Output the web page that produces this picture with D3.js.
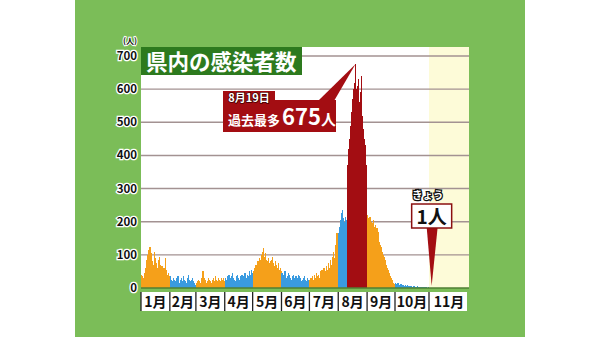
<html>
<head>
<meta charset="utf-8">
<script src="https://d3js.org/d3.v7.min.js"></script>
<style>
  body { margin: 0; background: #fff; }
  text { font-family: "Noto Sans CJK JP", "Noto Sans", sans-serif; font-weight: 700; }
</style>
</head>
<body>
<svg width="600" height="337"></svg>
<script>
// daily new cases, 2021, one array per month
const jan = [40, 35, 30, 45, 60, 85, 100, 80, 115, 125, 95, 105, 80, 70, 110, 90, 75, 60, 85, 95, 70, 55, 65, 50, 60, 45, 90, 55, 40, 45, 35];
const feb = [35, 25, 20, 30, 25, 15, 20, 30, 35, 20, 15, 25, 30, 20, 35, 25, 20, 15, 30, 38, 25, 20, 15, 25, 30, 20, 15, 10];
const mar = [15, 20, 25, 20, 15, 30, 25, 50, 30, 20, 25, 15, 20, 30, 25, 20, 15, 25, 30, 20, 35, 25, 20, 15, 30, 25, 20, 30, 25, 30, 20];
const apr = [30, 25, 35, 20, 40, 30, 25, 35, 45, 30, 25, 20, 35, 40, 30, 25, 35, 30, 40, 35, 30, 45, 35, 30, 40, 35, 50, 40, 55, 45];
const may = [50, 60, 55, 70, 65, 80, 75, 90, 85, 100, 110, 120, 95, 105, 85, 80, 90, 75, 70, 80, 85, 95, 75, 65, 80, 70, 60, 75, 55, 60, 50];
const jun = [45, 40, 35, 50, 40, 30, 35, 45, 40, 30, 25, 35, 40, 30, 20, 35, 30, 25, 40, 35, 30, 20, 25, 30, 35, 25, 20, 30, 25, 20];
const jul = [25, 30, 20, 35, 25, 40, 30, 45, 35, 40, 30, 50, 45, 55, 40, 60, 50, 45, 65, 55, 75, 60, 85, 70, 95, 110, 90, 130, 120, 165, 150];
const aug = [165, 185, 205, 225, 235, 210, 200, 215, 205,
             370, 390, 420, 450, 490, 530, 570, 600, 620, 675, 600, 610, 630, 560, 590, 640, 520, 480, 450, 430, 400, 370];
const sep = [220, 210, 215, 215, 200, 195, 205, 185, 190, 175, 180, 170, 150, 140, 130, 125, 110, 100, 95, 85, 70, 60, 55, 45, 35, 30, 25, 18, 15, 12];
const oct = [15, 12, 14, 10, 9, 12, 8, 10, 7, 9, 6, 8, 7, 5, 6, 4, 5, 7, 4, 3, 5, 4, 3, 2, 4, 3, 2, 3, 2, 1, 2];
const nov = [1];

const monthLabels = ["1月", "2月", "3月", "4月", "5月", "6月", "7月", "8月", "9月", "10月", "11月"];
const yTicks = [0, 100, 200, 300, 400, 500, 600, 700];
const peakDate = new Date(2021, 7, 19);
const peakValue = 675;
const highlightFrom = new Date(2021, 7, 10);
const today = new Date(2021, 10, 1);
const todayValue = 1;

const orange = "#f5a01a", blue = "#3a9be0", red = "#a30d12";

const months = [jan, feb, mar, apr, may, jun, jul, aug, sep, oct, nov];
const days = [];
months.forEach((arr, m) => arr.forEach((v, i) => {
  const date = new Date(2021, m, i + 1);
  days.push({ date, v, color: date >= highlightFrom && m == 7 ? red : (m % 2 == 0 ? orange : blue) });
}));

const svg = d3.select("svg");
const x = d3.scaleTime()
  .domain([new Date(2021, 0, 1), new Date(2021, 9, 1), new Date(2021, 10, 1), new Date(2021, 11, 1)])
  .range([141, 395, 429, 469]);
const y = d3.scaleLinear().domain([0, 700]).range([288, 56]);

const pLeft = 141, pRight = 469, pTop = 47, pBottom = 288;

svg.append("rect").attr("x", 75).attr("y", 0).attr("width", 450).attr("height", 337).attr("fill", "#7bbd58");
svg.append("rect").attr("x", pLeft).attr("y", pTop).attr("width", pRight - pLeft).attr("height", pBottom - pTop).attr("fill", "#fff");
svg.append("rect").attr("x", x(today)).attr("y", pTop).attr("width", pRight - x(today)).attr("height", pBottom - pTop).attr("fill", "#fdfbd8");

// grid
svg.append("g").selectAll("line").data(yTicks.slice(1)).join("line")
  .attr("x1", pLeft).attr("x2", pRight)
  .attr("y1", d => y(d)).attr("y2", d => y(d))
  .attr("stroke", "#a39292").attr("stroke-width", 1.4);

// bars
svg.append("g").attr("shape-rendering", "crispEdges")
  .selectAll("rect").data(days).join("rect")
  .attr("x", d => x(d.date))
  .attr("width", d => x(d3.timeDay.offset(d.date, 1)) - x(d.date) + 0.3)
  .attr("y", d => y(d.v))
  .attr("height", d => y(0) - y(d.v))
  .attr("fill", d => d.color);

svg.append("line").attr("x1", pLeft).attr("x2", pRight).attr("y1", pBottom).attr("y2", pBottom)
  .attr("stroke", "#4f7f35").attr("stroke-width", 1.5);

// y labels
svg.append("g").selectAll("text").data(yTicks).join("text")
  .attr("x", 137).attr("y", d => y(d) + 4)
  .attr("text-anchor", "end").attr("font-size", 11.5)
  .attr("fill", "#111").attr("stroke", "#fff").attr("stroke-width", 2.5)
  .attr("paint-order", "stroke").text(d => d);
svg.append("text").attr("x", 130).attr("y", 44).attr("text-anchor", "middle")
  .attr("font-size", 8).attr("fill", "#111").attr("stroke", "#fff").attr("stroke-width", 2)
  .attr("paint-order", "stroke").text("(人)");

// month row
const monthStarts = d3.range(11).map(m => new Date(2021, m, 1));
svg.append("rect").attr("x", pLeft).attr("y", 292).attr("width", pRight - pLeft - 2).attr("height", 19).attr("fill", "#fff");
const mg = svg.append("g");
mg.selectAll("line").data(monthStarts).join("line")
  .attr("x1", d => x(d)).attr("x2", d => x(d)).attr("y1", 292).attr("y2", 311)
  .attr("stroke", "#222").attr("stroke-width", 1.3);
mg.selectAll("text").data(monthStarts).join("text")
  .attr("x", (d, i) => (x(d) + x(new Date(2021, i + 1, 1))) / 2)
  .attr("y", 307).attr("text-anchor", "middle").attr("font-size", 14).attr("fill", "#111")
  .text((d, i) => monthLabels[i]);

// title
svg.append("rect").attr("x", pLeft).attr("y", 47).attr("width", 161).attr("height", 28).attr("fill", "#2d7a1e");
svg.append("text").attr("x", 146).attr("y", 70).attr("font-size", 21.5).attr("fill", "#fff").text("県内の感染者数");

// peak annotation
const pw = x(d3.timeDay.offset(peakDate, 1)) - x(peakDate);
const px = x(peakDate) + pw / 2;
svg.append("path").attr("d", `M318,101L334,101L${px},${y(peakValue)}Z`).attr("fill", red);
svg.append("rect").attr("x", 223).attr("y", 91).attr("width", 52).attr("height", 12).attr("fill", red);
svg.append("rect").attr("x", 223).attr("y", 100).attr("width", 113).attr("height", 32).attr("fill", red);
svg.append("text").attr("x", 249).attr("y", 101.5).attr("text-anchor", "middle").attr("font-size", 11)
  .attr("fill", "#fff").attr("stroke", "#400").attr("stroke-width", 1.5).attr("paint-order", "stroke")
  .text("8月19日");
const pt = svg.append("text").attr("x", 228).attr("y", 125).attr("fill", "#fff");
pt.append("tspan").attr("font-size", 13).text("過去最多");
pt.append("tspan").attr("font-size", 22).attr("dx", 2).text(peakValue);
pt.append("tspan").attr("font-size", 15).text("人");

// today annotation
const tx = x(today) + (x(d3.timeDay.offset(today, 1)) - x(today)) / 2 + 2;
svg.append("path").attr("d", `M${tx - 5},227L${tx + 6},227L${tx},${y(todayValue) - 2}Z`).attr("fill", red);
svg.append("rect").attr("x", tx - 20).attr("y", 204).attr("width", 40).attr("height", 24)
  .attr("fill", "#fff").attr("stroke", "#8b1010").attr("stroke-width", 1.5);
svg.append("text").attr("x", tx).attr("y", 223.5).attr("text-anchor", "middle").attr("font-size", 19)
  .attr("fill", "#111").text(todayValue + "人");
svg.append("text").attr("x", tx - 4).attr("y", 199).attr("text-anchor", "middle").attr("font-size", 10.5)
  .attr("fill", "#fff").attr("stroke", "#111").attr("stroke-width", 2.5).attr("paint-order", "stroke")
  .text("きょう");
</script>
</body>
</html>
